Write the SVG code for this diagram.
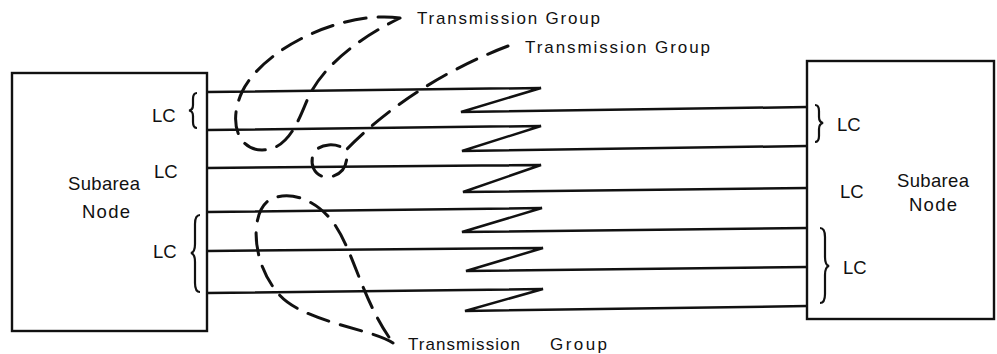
<svg xmlns="http://www.w3.org/2000/svg" width="997" height="354" viewBox="0 0 997 354">
<style>
.box{fill:#fff;stroke:#111;stroke-width:2.4}
.ln{fill:none;stroke:#111;stroke-width:2.5;stroke-linejoin:miter}
.br{fill:none;stroke:#111;stroke-width:2.2}
.dash{fill:none;stroke:#111;stroke-width:3;stroke-dasharray:22 12;stroke-linecap:round}
text{font-family:"Liberation Sans",Arial,Helvetica,sans-serif;fill:#111}
.lc{font-size:18.5px}
.tg{font-size:17px}
</style>
<rect width="997" height="354" fill="#fff"/>
<g id="node-left">
<rect class="box" x="12" y="73" width="195" height="258"/>
<text class="lc" x="68" y="190" textLength="72">Subarea</text>
<text class="lc" x="82" y="218" textLength="48">Node</text>
<text class="lc" x="152" y="122">LC</text>
<text class="lc" x="154" y="178">LC</text>
<text class="lc" x="153" y="258">LC</text>
<path class="br" d="M197,93 Q193,93 193,99 L193,105 Q193,110 189,110.5 Q193,111 193,116 L193,122 Q193,128 197,128"/>
<path class="br" d="M200,215 Q195,215 195,224 L195,244 Q195,252 191,253 Q195,254 195,262 L195,283 Q195,292 200,292"/>
</g>
<g id="node-right">
<rect class="box" x="807" y="61" width="187" height="258"/>
<text class="lc" x="897" y="187" textLength="72">Subarea</text>
<text class="lc" x="909" y="211" textLength="48">Node</text>
<text class="lc" x="837" y="131">LC</text>
<text class="lc" x="840" y="198">LC</text>
<text class="lc" x="843" y="274">LC</text>
<path class="br" d="M815,105 Q819,105 819,111 L819,117 Q819,122 823,123 Q819,124 819,129 L819,136 Q819,142 815,142"/>
<path class="br" d="M820,228 Q825,228 825,237 L825,257 Q825,265 829,266 Q825,267 825,275 L825,294 Q825,303 820,303"/>
</g>
<g id="connectors">
<polyline class="ln" points="207,92 541,88 461,112 807,107"/>
<polyline class="ln" points="207,130 541,126 462,151 807,146"/>
<polyline class="ln" points="207,168 541,165 463,192 807,188"/>
<polyline class="ln" points="207,212 542,208 462,232 807,228"/>
<polyline class="ln" points="207,251 543,248 466,271 807,267"/>
<polyline class="ln" points="207,293 543,289 465,311 807,306"/>
</g>
<g id="tg-top">
<path class="dash" d="M400,18 C340,10 262,50 242,92 C228,122 238,150 262,150 C288,150 298,122 308,98 C322,68 355,40 400,18"/>
<text class="tg" x="417" y="24" textLength="183">Transmission Group</text>
</g>
<g id="tg-middle">
<path class="dash" d="M508,46 C455,66 395,100 346,150 C350,168 338,178 325,177 C312,175 309,160 315,151 C322,143 338,143 346,150"/>
<text class="tg" x="525" y="53" textLength="185">Transmission Group</text>
</g>
<g id="tg-bottom">
<path class="dash" d="M393,343 C370,328 300,322 277,292 C252,262 250,215 268,201 C288,188 318,200 335,225 C355,255 362,300 393,343"/>
<text class="tg" x="408" y="350"><tspan textLength="112">Transmission</tspan> <tspan x="550" textLength="57">Group</tspan></text>
</g>
</svg>
